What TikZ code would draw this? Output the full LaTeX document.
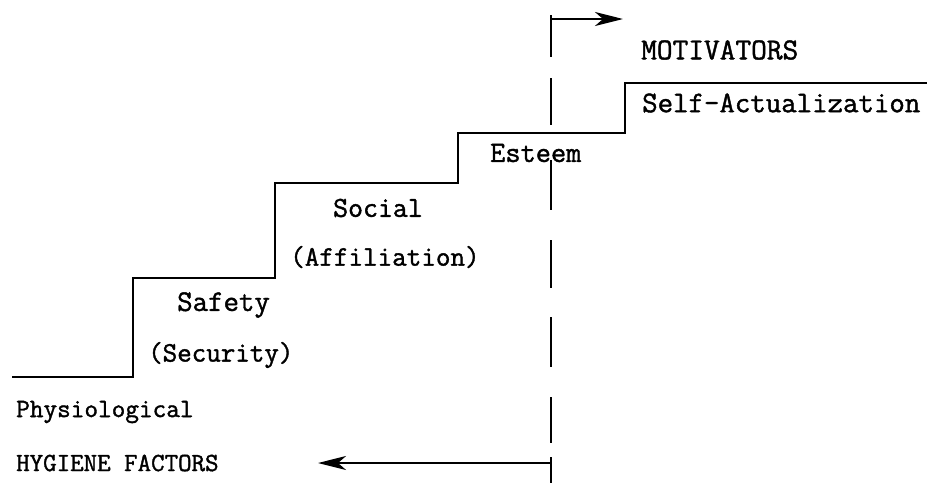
\documentclass[tikz,border=0pt]{standalone}
\usepackage{fontspec}
\newfontfamily\typefont{Latin Modern Mono}[FakeBold=1.4]
\usetikzlibrary{arrows.meta}

\begin{document}
\begin{tikzpicture}[
  x=1pt, y=-1pt,
  label/.style={anchor=west, inner sep=0pt, font=\fontsize{#1}{#1}\selectfont\typefont},
  label/.default=28,
  stair/.style={line width=2.8pt, line join=miter},
  divider/.style={line width=2.4pt},
  arr/.style={-{Stealth[length=28pt, width=14pt, inset=8pt]}, line width=2.6pt}
]
  \useasboundingbox (0,0) rectangle (927,483);

  % Staircase
  \draw[stair] (12,377) -- (133,377) -- (133,278) -- (275,278) -- (275,183)
    -- (458,183) -- (458,133) -- (625,133) -- (625,83) -- (927,83);

  % Divider, dashes of uneven length
  \foreach \a/\b in {15/57, 78/125, 160/210, 240/288, 317/367, 397/443, 457/483}
    \draw[divider] (551,\a) -- (551,\b);

  % Arrows
  \coordinate (mstart) at (551,19);
  \coordinate (mend) at (623,19);
  \coordinate (hstart) at (551,463);
  \coordinate (hend) at (318,463);
  \draw[arr] (mstart) -- (mend);
  \draw[arr] (hstart) -- (hend);

  % Labels
  \node[label=30.5] (mot) at (641,50) {MOTIVATORS};
  \node[label=30] (self) at (642,103) {Self-Actualization};
  \node[label=29.5] (est) at (490,153) {Esteem};
  \node[label=29] (soc) at (333,208) {Social};
  \node[label=28.3] (aff) at (290,257) {(Affiliation)};
  \node[label=30] (saf) at (177,305) {Safety};
  \node[label=28.2] (sec) at (148,355) {(Security)};
  \node[label=26.5] (phy) at (16,412) {Physiological};
  \node[label=26.2] (hyg) at (16,463) {HYGIENE FACTORS};
\end{tikzpicture}
\end{document}
